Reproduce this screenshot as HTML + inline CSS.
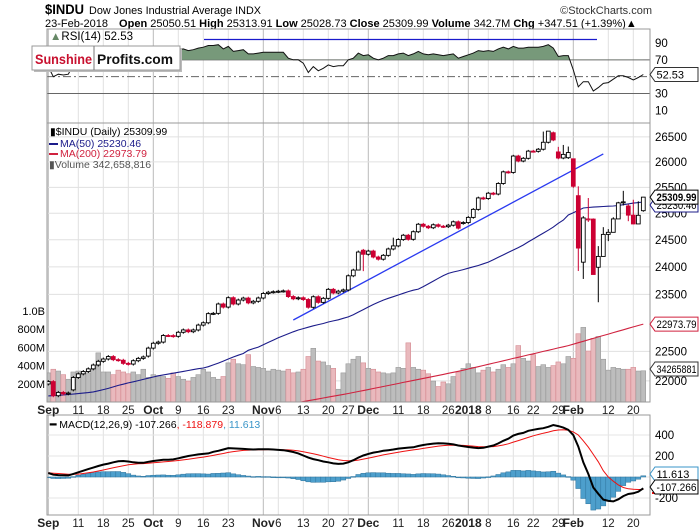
<!DOCTYPE html>
<html><head><meta charset="utf-8"><style>
html,body{margin:0;padding:0;background:#fff;}
svg{display:block;font-family:"Liberation Sans",sans-serif;}
</style></head><body>
<svg id="chart" width="700" height="530" viewBox="0 0 700 530" xmlns="http://www.w3.org/2000/svg">
<g id="hdr">
<text x="45" y="14" font-size="13.5" font-weight="bold" textLength="39" lengthAdjust="spacingAndGlyphs">$INDU</text>
<text x="89" y="14" font-size="11" textLength="172" lengthAdjust="spacingAndGlyphs">Dow Jones Industrial Average INDX</text>
<text x="652" y="14" font-size="11" text-anchor="end" fill="#333">©StockCharts.com</text>
<text x="45" y="27" font-size="11">23-Feb-2018 <tspan dx="8" font-weight="bold">Open</tspan> 25050.51 <tspan font-weight="bold">High</tspan> 25313.91 <tspan font-weight="bold">Low</tspan> 25028.73 <tspan font-weight="bold">Close</tspan> 25309.99 <tspan font-weight="bold">Volume</tspan> 342.7M <tspan font-weight="bold">Chg</tspan> +347.51 (+1.39%)▲</text>
</g>
<g id="rsi"></g>
<g id="price"></g>
<g id="macd"></g>
<g id="logo">
<rect x="34" y="48" width="148" height="24" fill="#bbb"/>
<rect x="32" y="46" width="148" height="24" fill="#fff" stroke="#999"/>
<line x1="94" y1="46" x2="94" y2="70" stroke="#777"/>
<text x="35" y="64" font-size="14" font-weight="bold" fill="#c8102e" textLength="57" lengthAdjust="spacingAndGlyphs">Sunshine</text>
<text x="97" y="64" font-size="14" font-weight="bold" fill="#111" textLength="76" lengthAdjust="spacingAndGlyphs">Profits.com</text>
</g>
</svg>
<script>
const closes=[21988,21753,21807,21784,21797,22057,22118,22158,22203,22268,22331,22370,22412,22359,22349,22296,22284,22341,22381,22405,
22557,22641,22661,22775,22773,22761,22831,22872,22841,22871,22957,22997,23158,23163,23329,23274,23441,23329,23400,23434,23349,23377,
23436,23517,23539,23548,23557,23563,23462,23422,23440,23409,23271,23458,23358,23430,23591,23526,23558,23580,23836,23940,24272,
24231,24290,24180,24140,24211,24329,24386,24504,24585,24509,24651,24792,24754,24726,24782,24754,24746,24774,24838,24719,
24824,24922,25075,25295,25283,25386,25370,25575,25803,25792,26116,26017,26071,26214,26210,26252,26392,26617,26439,26077,26149,
26186,25521,24346,24912,24893,23860,24191,24601,24640,24893,25200,25219,24965,24798,24962,25310];
const opens=[21948,21988,21753,21807,21784,21850,22057,22118,22158,22203,22268,22331,22370,22412,22359,22349,22296,22284,22341,22381,
22420,22557,22641,22661,22775,22773,22761,22831,22872,22841,22871,22957,22997,23158,23163,23329,23274,23441,23329,23400,23434,23349,
23377,23436,23517,23539,23548,23557,23563,23462,23422,23440,23409,23271,23458,23358,23430,23591,23526,23558,23580,23836,23941,
24305,24231,24290,24180,24140,24211,24329,24386,24504,24585,24509,24651,24792,24754,24726,24782,24754,24746,24774,24838,
24809,24824,24922,25075,25295,25283,25386,25370,25575,25803,25792,26116,26017,26071,26214,26210,26252,26392,26584,26198,26077,
26083,26061,25338,24085,24890,24890,23992,24191,24601,24640,24893,25200,25140,24965,24798,25050];
const highs={62:24300,63:24330,69:24540,99:26608,100:26617,101:26608,102:26300,103:26338,104:26306,105:26061,106:25520,107:24946,108:25293,109:24903,110:24382,111:24737,112:24700,113:24925,114:25220,115:25432,116:25170,117:25260,118:25230,119:25314};
const lows={62:23940,63:23921,105:25490,106:23923,107:23779,108:24836,109:23860,110:23360,111:24377,112:24475,113:24640,114:24890,115:25149,116:24850,117:24790,118:24950,119:25029};
const volumes=[320,360,340,300,250,330,340,330,320,360,540,330,330,300,350,330,310,330,300,360,
270,300,290,280,260,320,280,250,230,270,300,360,330,270,250,280,430,470,420,410,520,390,
380,370,340,360,350,340,360,320,330,360,500,590,450,440,400,370,140,320,420,470,500,
430,370,360,330,320,310,320,380,370,650,380,360,350,310,230,170,220,200,280,330,
370,420,380,320,350,380,330,360,410,380,420,620,480,450,520,390,410,380,400,440,420,
500,480,750,820,560,700,720,470,350,380,370,360,360,380,340,343];
const ma50=[21750,21755,21760,21765,21772,21780,21788,21796,21805,21816,21835,21855,21875,21900,21925,21945,21966,21985,22005,22025,
22045,22065,22085,22100,22115,22130,22145,22160,22175,22190,22205,22218,22240,22270,22300,22335,22370,22405,22435,22465,22520,22548,
22575,22615,22655,22695,22735,22770,22805,22840,22870,22895,22920,22945,22965,22985,23010,23030,23050,23075,23100,23140,23185,
23230,23275,23320,23360,23398,23430,23460,23490,23520,23550,23575,23595,23640,23690,23740,23790,23840,23880,23905,23925,
23950,23975,24000,24025,24055,24087,24130,24175,24220,24265,24310,24355,24402,24460,24515,24570,24625,24680,24739,24810,24870,
24967,25010,25055,25101,25110,25118,25125,25130,25135,25140,25150,25165,25180,25195,25205,25216];
const ma200=[20890,20905,20920,20935,20950,20965,20980,20995,21010,21025,21040,21055,21070,21085,21100,21115,21130,21145,21160,21175,
21190,21205,21220,21235,21250,21265,21280,21295,21310,21325,21340,21355,21370,21385,21400,21415,21430,21445,21460,21475,21490,21505,
21520,21535,21550,21565,21580,21595,21610,21625,21640,21655,21670,21685,21700,21715,21730,21745,21760,21775,21790,21806,21822,
21838,21855,21872,21889,21906,21923,21940,21957,21974,21991,22008,22025,22042,22059,22076,22093,22110,22127,22144,22161,
22180,22200,22220,22240,22260,22280,22300,22320,22340,22360,22380,22400,22420,22440,22460,22480,22500,22520,22540,22560,22580,
22600,22625,22650,22675,22700,22725,22750,22775,22800,22825,22850,22875,22900,22925,22950,22974];
const rsi=[62,50,53,52,53,64,66,67,69,71,73,74,75,72,71,69,68,71,72,73,
77,79,80,82,81,80,82,83,81,82,84,85,87,87,88,83,86,80,81,82,77,77,
78,79,79,79,79,79,72,70,70,66,55,62,57,60,64,62,63,63,70,72,78,
75,76,72,70,72,75,75,77,78,75,77,80,77,76,77,76,75,76,77,72,
74,76,78,81,80,81,80,83,85,83,86,84,84,85,85,85,86,88,84,74,75,
75,58,38,44,44,33,37,42,43,47,51,51,49,46,49,52.53];
const macdLine=[38,22,18,16,15,30,45,60,75,90,105,118,128,140,150,152,148,140,136,135,
145,152,158,164,165,168,178,190,200,208,215,220,225,240,250,262,275,272,270,268,265,262,
265,264,265,262,258,255,248,238,225,205,185,170,160,148,140,130,125,128,140,160,185,
205,220,232,240,250,255,262,270,275,280,283,295,305,312,318,322,320,316,310,300,
292,286,280,275,278,290,300,320,345,365,395,410,420,440,450,458,465,478,495,485,470,
450,400,290,140,30,-100,-160,-215,-228,-232,-212,-182,-162,-155,-140,-107.266];
const signalLine=[40,36,33,30,27,26,28,33,40,48,57,67,77,88,98,108,116,122,126,128,
131,135,139,144,148,152,157,163,169,176,183,190,197,206,215,224,234,242,248,253,256,258,
259,260,261,261,261,260,258,254,249,241,231,221,210,198,186,175,165,157,154,155,161,
170,180,190,200,210,219,228,236,244,251,258,265,272,280,287,294,299,302,303,303,
301,298,294,290,288,288,290,296,305,316,332,347,362,377,392,405,417,428,440,448,450,
446,430,400,345,285,215,145,60,0,-40,-75,-100,-112,-117,-119,-118.879];
const priceTicks=[22000,22500,23500,24000,24500,25000,25500,26000,26500];
const volTicks=[200,400,600,800,1000];
const volTickLabels=["200M","400M","600M","800M","1.0B"];
const rsiTicks=[10,30,50,70,90];
const macdTicks=[-200,200,400];
const trendStart=[49,23046], trendEnd=[111,26158];
const holidays=["2017-11-23","2017-12-25","2018-01-01","2018-01-15","2018-02-19"];
const labelDates=["2017-09-01","2017-09-11","2017-09-18","2017-09-25","2017-10-02","2017-10-09","2017-10-16","2017-10-23","2017-11-01","2017-11-06","2017-11-13","2017-11-20","2017-11-27","2017-12-01","2017-12-11","2017-12-18","2017-12-26","2018-01-02","2018-01-08","2018-01-16","2018-01-22","2018-01-29","2018-02-01","2018-02-12","2018-02-20"];
const labelTexts=["Sep","11","18","25","Oct","9","16","23","Nov","6","13","20","27","Dec","11","18","26","2018","8","16","22","29","Feb","12","20"];
const labelBold=[1,0,0,0,1,0,0,0,1,0,0,0,0,1,0,0,0,1,0,0,0,0,1,0,0];

const dates=[];
(function(){let d=new Date(Date.UTC(2017,8,1));const end=new Date(Date.UTC(2018,1,23));
while(d<=end){const w=d.getUTCDay();const s=d.toISOString().slice(0,10);if(w!==0&&w!==6&&holidays.indexOf(s)<0)dates.push(s);d=new Date(d.getTime()+86400000);}})();

const NS="http://www.w3.org/2000/svg";
const PL=47,PR=650;
const X=i=>48.3+i*5.0;
const yP=p=>213.3-1311*Math.log(p/25000);
const yV=v=>402-v*0.091;
const yR=v=>43+(90-v)*0.842;
const yM=v=>477-v*0.105;
function mk(parent,tag,attrs){const e=document.createElementNS(NS,tag);for(const k in attrs)e.setAttribute(k,attrs[k]);parent.appendChild(e);return e;}
function txt(parent,x,y,s,attrs){const e=mk(parent,'text',Object.assign({x:x,y:y},attrs||{}));e.textContent=s;return e;}
const svg=document.getElementById('chart');
const defs=mk(svg,'defs',{});
function clip(id,x,y,w,h){const c=mk(defs,'clipPath',{id:id});mk(c,'rect',{x:x,y:y,width:w,height:h});}
clip('cpP',PL,123,PR-PL,279);clip('cpR',PL,29,PR-PL,94);clip('cpM',PL,415,PR-PL,100);
const labelIdx=labelDates.map(d=>dates.indexOf(d));

function vgrid(g,top,bot){labelIdx.forEach((i,k)=>{if(i<0)return;const l=mk(g,'line',{x1:X(i),x2:X(i),y1:top,y2:bot,stroke:labelBold[k]?'#bbb':'#e0e0e0','stroke-width':1});

});}
function xlabels(g,y){labelIdx.forEach((i,k)=>{if(i<0)return;const t=txt(g,X(i),y,labelTexts[k],{'font-size':labelBold[k]?12:11.5,'font-weight':labelBold[k]?'bold':'normal','text-anchor':'middle',fill:'#222'});

});}
function tag(g,y,label,stroke,bold,name){const p=mk(g,'path',{d:`M650 ${y} L655 ${y-7} H698 V${y+7} H655 Z`,fill:'#fff',stroke:stroke,'stroke-width':1});


const attrs={'font-size':11,'font-weight':bold?'bold':'normal',fill:'#000'};
if(label.length>=8){attrs.textLength=40;attrs.lengthAdjust='spacingAndGlyphs';}
const t=txt(g,656.5,y+4,label,attrs);

}
function linePath(arr,fx,fy){return arr.map((v,i)=>(i?'L':'M')+fx(i).toFixed(1)+' '+fy(v).toFixed(1)).join(' ');}

// RSI
const gR=document.getElementById('rsi');
vgrid(gR,29,123);
rsiTicks.forEach(v=>{const t=txt(gR,655,yR(v)+4,String(v),{'font-size':11.5});

});
[70,30].forEach(v=>{const l=mk(gR,'line',{x1:PL,x2:PR,y1:yR(v),y2:yR(v),stroke:'#666','stroke-width':1});

});
const l50=mk(gR,'line',{x1:PL,x2:PR,y1:yR(50),y2:yR(50),stroke:'#666','stroke-width':1,'stroke-dasharray':'8,3,2,3'});


const cR=mk(defs,'clipPath',{id:'cpR70'});mk(cR,'rect',{x:PL,y:29,width:PR-PL,height:yR(70)-29});
const rArea=mk(gR,'path',{d:linePath(rsi,X,yR)+` L${X(rsi.length-1)} ${yR(70)} L${X(0)} ${yR(70)} Z`,fill:'#77997a','clip-path':'url(#cpR70)'});


const rLine=mk(gR,'path',{d:linePath(rsi,X,yR),fill:'none',stroke:'#111','stroke-width':1});


const bl=mk(gR,'line',{x1:204,x2:597,y1:39.5,y2:39.5,stroke:'#1a1acc','stroke-width':1.2});


mk(gR,'rect',{x:PL,y:29,width:PR-PL,height:94,fill:'none',stroke:'#999'});
const rl=txt(gR,50,40,'',{'font-size':11.5});rl.innerHTML='<tspan fill="#668866">▲</tspan>RSI(14) 52.53';


tag(gR,yR(52.53),'52.53','#333',false,'rsi-value-tag');

// PRICE
const gP=document.getElementById('price');
vgrid(gP,123,402);
priceTicks.forEach(p=>{const l=mk(gP,'line',{x1:PL,x2:PR,y1:yP(p),y2:yP(p),stroke:'#e0e0e0'});


const t=txt(gP,655,yP(p)+4,String(p),{'font-size':11.5});

});
volTicks.forEach((v,k)=>{const t=txt(gP,45,yV(v)+4,volTickLabels[k],{'font-size':11,'text-anchor':'end'});

});
const gPc=mk(gP,'g',{'clip-path':'url(#cpP)'});
volumes.forEach((v,i)=>{const down=i>0&&closes[i]<closes[i-1];const r=mk(gPc,'rect',{x:X(i)-2.4,y:yV(v),width:4.8,height:402-yV(v),fill:down?'#e9b9bd':'#bdbdbd',stroke:down?'#d58a92':'#9a9a9a','stroke-width':0.6});

});
const m200=mk(gPc,'path',{d:linePath(ma200,X,yP),fill:'none',stroke:'#d0223f','stroke-width':1.1});


const m50=mk(gPc,'path',{d:linePath(ma50,X,yP),fill:'none',stroke:'#1c1c8a','stroke-width':1.1});


const tl=mk(gPc,'line',{x1:X(trendStart[0]),y1:yP(trendStart[1]),x2:X(trendEnd[0]),y2:yP(trendEnd[1]),stroke:'#2a3af0','stroke-width':1.3});


closes.forEach((c,i)=>{const o=opens[i];const down=i>0&&c<closes[i-1];const col=down?'#cc0033':'#000';
const hi=highs[i]!==undefined?highs[i]:Math.max(o,c)+25;const lo=lows[i]!==undefined?lows[i]:Math.min(o,c)-25;
const g=mk(gPc,'g',{});


mk(g,'line',{x1:X(i),x2:X(i),y1:yP(hi),y2:yP(lo),stroke:col,'stroke-width':1});
const top=yP(Math.max(o,c)),bot=yP(Math.min(o,c));
mk(g,'rect',{x:X(i)-1.9,y:top,width:3.8,height:Math.max(bot-top,1),fill:c>=o?'#fff':col,stroke:col,'stroke-width':0.9});});
mk(gP,'rect',{x:PL,y:123,width:PR-PL,height:279,fill:'none',stroke:'#999'});
const lg=mk(gP,'g',{'font-size':10.5});


txt(lg,50,135,'▮$INDU (Daily) 25309.99',{fill:'#000'});
mk(lg,'rect',{x:49,y:143,width:9,height:2,fill:'#1c1c8a'});txt(lg,60,147,'MA(50) 25230.46',{fill:'#1c1c8a'});
mk(lg,'rect',{x:49,y:153,width:9,height:2,fill:'#d0223f'});txt(lg,60,157,'MA(200) 22973.79',{fill:'#d0223f'});
txt(lg,49,168,'▮Volume 342,658,816',{fill:'#555'});
tag(gP,yP(25216)+3,'25230.46','#1c1c8a',false,'ma50-value-tag');
tag(gP,yP(25310),'25309.99','#000',true,'price-value-tag');
tag(gP,yP(22974),'22973.79','#d0223f',false,'ma200-value-tag');
tag(gP,369,'34265881','#333',false,'volume-value-tag');
const gA=mk(svg,'g',{});


xlabels(gA,414);

// MACD
const gM=document.getElementById('macd');
vgrid(gM,415,515);
macdTicks.concat([0]).forEach(v=>{const l=mk(gM,'line',{x1:PL,x2:PR,y1:yM(v),y2:yM(v),stroke:'#e6e6e6'});

});
macdTicks.forEach(v=>{const t=txt(gM,655,yM(v)+4,String(v),{'font-size':11.5});

});
const gMc=mk(gM,'g',{'clip-path':'url(#cpM)'});
macdLine.forEach((m,i)=>{const h=m-signalLine[i];const y0=yM(0),y1=yM(h);const r=mk(gMc,'rect',{x:X(i)-2.5,y:Math.min(y0,y1),width:5,height:Math.max(Math.abs(y1-y0),0.8),fill:'#4d9fcc',stroke:'#2f739c','stroke-width':0.5});

});
const sg=mk(gMc,'path',{d:linePath(signalLine,X,yM),fill:'none',stroke:'#ee1111','stroke-width':1});


const ml=mk(gMc,'path',{d:linePath(macdLine,X,yM),fill:'none',stroke:'#000','stroke-width':2});


mk(gM,'rect',{x:PL,y:415,width:PR-PL,height:100,fill:'none',stroke:'#999'});
const mlg=txt(gM,50,428,'',{'font-size':10.5});mlg.innerHTML='<tspan font-weight="bold">━</tspan> MACD(12,26,9) -107.266<tspan fill="#ee1111">, -118.879</tspan><tspan fill="#3a95c8">, 11.613</tspan>';


mk(gM,'line',{x1:652,x2:698,y1:493,y2:493,stroke:'#ee1111','stroke-width':2});
tag(gM,474,'11.613','#3a95c8',false,'histogram-value-tag');
tag(gM,487,'-107.266','#000',false,'macd-value-tag');
const gB=mk(svg,'g',{});


xlabels(gB,527);
</script>
</body></html>
